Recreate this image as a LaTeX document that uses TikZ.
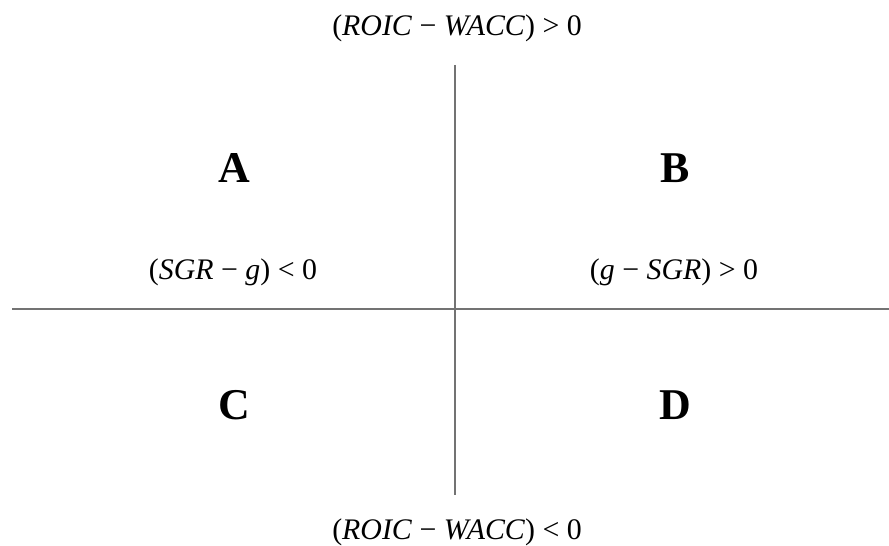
\documentclass[tikz,border=0pt]{standalone}
\usepackage{fontspec}
\setmainfont{Liberation Serif}
\begin{document}
\begin{tikzpicture}[
  x=0.02cm, y=-0.02cm,
  axis/.style={draw=black!55, line width=0.9pt},
  quad/.style={font=\fontsize{25}{28}\selectfont\bfseries, inner sep=0pt},
  cond/.style={font=\fontsize{17}{20}\selectfont, inner sep=0pt}
]
  \useasboundingbox (0,0) rectangle (889,546);

  % Achsen
  \coordinate (top) at (455,65);
  \coordinate (bot) at (455,495);
  \coordinate (left) at (12,309);
  \coordinate (right) at (889,309);
  \draw[axis] (top) -- (bot);
  \draw[axis] (left) -- (right);

  % Quadranten
  \node[quad] (qa) at (234,168) {A};
  \node[quad] (qb) at (675,168) {B};
  \node[quad] (qc) at (234,405) {C};
  \node[quad] (qd) at (675,405) {D};

  % Bedingungen
  \node[cond] (roicpos) at (457,28) {(\textit{ROIC} − \textit{WACC}) > 0};
  \node[cond] (roicneg) at (457,532) {(\textit{ROIC} − \textit{WACC}) < 0};
  \node[cond] (sgrneg) at (233,272) {(\textit{SGR} − \textit{g}) < 0};
  \node[cond] (sgrpos) at (674,272) {(\textit{g} − \textit{SGR}) > 0};
\end{tikzpicture}
\end{document}
